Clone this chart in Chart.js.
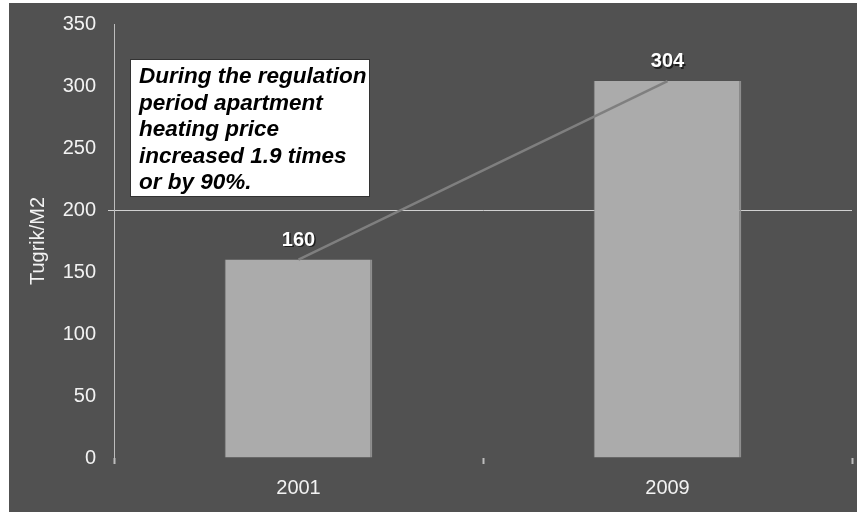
<!DOCTYPE html>
<html>
<head>
<meta charset="utf-8">
<script src="https://cdn.jsdelivr.net/npm/chart.js@4.4.1/dist/chart.umd.min.js"></script>
<style>
  html, body { margin: 0; padding: 0; background: #ffffff; }
  #wrap { width: 857px; height: 512px; }
</style>
</head>
<body>
<div id="wrap"><canvas id="chart" width="857" height="512"></canvas></div>
<script>
const years = ["2001", "2009"];
const prices = [160, 304];
const yTicks = [0, 50, 100, 150, 200, 250, 300, 350];
const noteLines = [
        "During the regulation",
        "period apartment",
        "heating price",
        "increased 1.9 times",
        "or by 90%."
];

const FONT = "'Liberation Sans', Arial, sans-serif";

// dark panel behind everything
const panelBg = {
        id: "panelBg",
        beforeDraw(chart) {
                const ctx = chart.ctx;
                ctx.save();
                ctx.fillStyle = "#ffffff";
                ctx.fillRect(0, 0, chart.width, chart.height);
                ctx.fillStyle = "#515151";
                ctx.fillRect(9, 3, chart.width - 9, chart.height - 3);
                ctx.restore();
        }
};

// value labels on top of bars + the note box
const extras = {
        id: "extras",
        afterDraw(chart) {
                const ctx = chart.ctx;
                const meta = chart.getDatasetMeta(0);
                ctx.save();
                ctx.font = "bold 20px " + FONT;
                ctx.textAlign = "center";
                ctx.textBaseline = "bottom";
                meta.data.forEach((bar, i) => {
                        ctx.fillStyle = "#1e1e1e";
                        ctx.fillText(String(prices[i]), bar.x + 1.5, bar.y - 8);
                        ctx.fillStyle = "#ffffff";
                        ctx.fillText(String(prices[i]), bar.x, bar.y - 9.5);
                });

                // note box
                ctx.fillStyle = "#ffffff";
                ctx.fillRect(130, 59, 240, 138);
                ctx.strokeStyle = "#333333";
                ctx.lineWidth = 1;
                ctx.strokeRect(130.5, 59.5, 239, 137);
                ctx.fillStyle = "#000000";
                ctx.font = "italic bold 22.5px " + FONT;
                ctx.textAlign = "left";
                ctx.textBaseline = "middle";
                noteLines.forEach((t, i) => {
                        ctx.fillText(t, 139, 77 + i * 26.5);
                });
                ctx.restore();
        }
};

const config = {
        data: {
                labels: years,
                datasets: [
                        {
                                type: "bar",
                                data: prices,
                                backgroundColor: "#ababab",
                                borderColor: "#8e8e8e",
                                borderWidth: { left: 1, right: 2, top: 0, bottom: 0 },
                                borderSkipped: false,
                                categoryPercentage: 1,
                                barPercentage: 0.4,
                                order: 2
                        },
                        {
                                type: "line",
                                data: prices,
                                borderColor: "#7f7f7f",
                                borderWidth: 2.5,
                                pointRadius: 0,
                                tension: 0,
                                order: 1
                        }
                ]
        },
        options: {
                responsive: false,
                animation: false,
                layout: { padding: { top: 22, right: 5, left: 0, bottom: 0 } },
                plugins: {
                        legend: { display: false },
                        tooltip: { enabled: false }
                },
                scales: {
                        x: {
                                grid: {
                                        offset: true,
                                        drawOnChartArea: false,
                                        tickLength: 6,
                                        tickColor: "#bdbdbd",
                                        tickWidth: 2
                                },
                                border: { display: false },
                                ticks: {
                                        color: "#f2f2f2",
                                        font: { family: FONT, size: 20 },
                                        padding: 12
                                },
                                afterFit(scale) { scale.height = 54; }
                        },
                        y: {
                                min: 0,
                                max: 350,
                                afterBuildTicks(scale) {
                                        scale.ticks = yTicks.map(v => ({ value: v }));
                                },
                                grid: {
                                        color: c => c.tick && c.tick.value === 200 ? "#d0d0d0" : "rgba(0,0,0,0)",
                                        tickColor: c => c.tick && c.tick.value === 200 ? "#d0d0d0" : "rgba(0,0,0,0)",
                                        tickLength: 6,
                                        lineWidth: 1
                                },
                                border: { display: true, color: "#bdbdbd", width: 1 },
                                ticks: {
                                        color: "#f2f2f2",
                                        font: { family: FONT, size: 20 },
                                        padding: 12
                                },
                                title: {
                                        display: true,
                                        text: "Tugrik/M2",
                                        color: "#f2f2f2",
                                        font: { family: FONT, size: 20 },
                                        padding: { top: 26, bottom: 0 }
                                },
                                afterFit(scale) { scale.width = 114; }
                        }
                }
        },
        plugins: [panelBg, extras]
};

new Chart(document.getElementById("chart").getContext("2d"), config);
</script>
</body>
</html>
